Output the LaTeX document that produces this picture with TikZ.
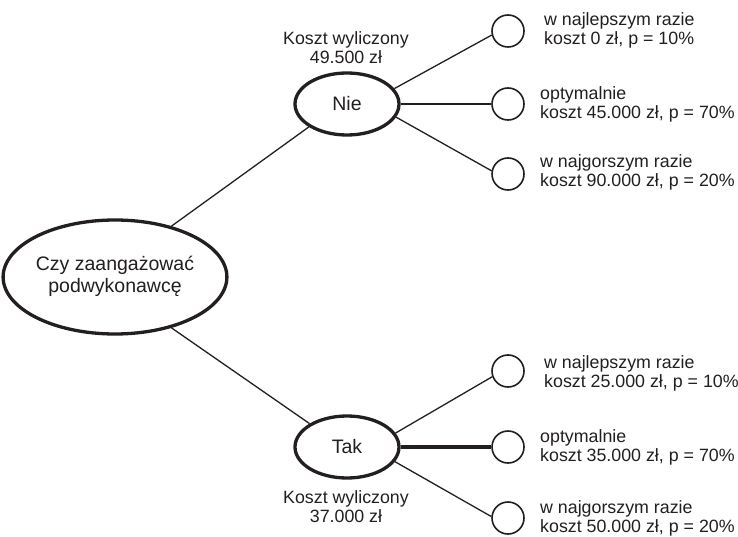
\documentclass[tikz,border=0pt]{standalone}
\usepackage{fontspec}
\setmainfont{Liberation Sans}
\usetikzlibrary{shapes.geometric}
\definecolor{ink}{RGB}{35,31,32}
\newcommand{\twoL}[2]{\begin{tabular}[t]{@{}l@{}}#1\\#2\end{tabular}}
\newcommand{\twoC}[2]{\begin{tabular}[t]{@{}c@{}}#1\\#2\end{tabular}}
\begin{document}
\begin{tikzpicture}[x=1pt,y=-1pt,
  bigfont/.style={font=\fontsize{19.5}{22.5}\selectfont},
  smallfont/.style={font=\fontsize{17.8}{19}\selectfont},
  decision/.style={ellipse,draw=ink,line width=3.3pt,inner sep=0pt,text=ink,bigfont},
  outcome/.style={circle,draw=ink,line width=1.6pt,minimum size=32pt,inner sep=0pt},
  costlabel/.style={anchor=base,inner sep=0pt,text=ink,smallfont},
  sidelabel/.style={anchor=base west,inner sep=0pt,text=ink,smallfont},
  branch/.style={draw=ink,line width=1.3pt},
  midbranch/.style={draw=ink,line width=2pt},
  boldbranch/.style={draw=ink,line width=3.3pt}]
\fill[white] (0,0) rectangle (738,537);
\useasboundingbox (0,0) rectangle (738,537);

% decision nodes
\node[decision,minimum width=206pt,minimum height=114pt,align=center] (root) at (115,277) {\raisebox{-3pt}{\begin{tabular}{@{}c@{}}Czy zaangażować\\podwykonawcę\end{tabular}}};
\node[decision,minimum width=104pt,minimum height=62pt] (nie) at (347,104) {Nie};
\node[decision,minimum width=104pt,minimum height=62pt] (tak) at (347,447) {Tak};

% cost labels
\node[costlabel] (k1) at (346,45) {\twoC{Koszt wyliczony}{49.500 zł}};
\node[costlabel] (k2) at (346,503) {\twoC{Koszt wyliczony}{37.000 zł}};

% outcome circles
\node[outcome] (c1) at (508,31) {};
\node[outcome] (c2) at (508,104) {};
\node[outcome] (c3) at (508,174) {};
\node[outcome] (c4) at (508,371) {};
\node[outcome] (c5) at (508,447) {};
\node[outcome] (c6) at (508,518) {};

% outcome labels
\node[sidelabel] (t1) at (544,26) {\twoL{w najlepszym razie}{koszt 0 zł, p = 10\%}};
\node[sidelabel] (t2) at (540,100) {\twoL{optymalnie}{koszt 45.000 zł, p = 70\%}};
\node[sidelabel] (t3) at (540,168) {\twoL{w najgorszym razie}{koszt 90.000 zł, p = 20\%}};
\node[sidelabel] (t4) at (544,368) {\twoL{w najlepszym razie}{koszt 25.000 zł, p = 10\%}};
\node[sidelabel] (t5) at (540,442) {\twoL{optymalnie}{koszt 35.000 zł, p = 70\%}};
\node[sidelabel] (t6) at (540,513) {\twoL{w najgorszym razie}{koszt 50.000 zł, p = 20\%}};

% connectors
\draw[branch] (root.42) -- (nie.211);
\draw[branch] (root.-42) -- (tak.148);
\draw[branch] (nie.18) -- (c1.194);
\draw[midbranch] (nie.0) -- (c2.180);
\draw[branch] (nie.-15) -- (c3.169);
\draw[branch] (tak.16) -- (c4.200);
\draw[boldbranch] (tak.0) -- (c5.180);
\draw[branch] (tak.-17) -- (c6.175);
\end{tikzpicture}
\end{document}
